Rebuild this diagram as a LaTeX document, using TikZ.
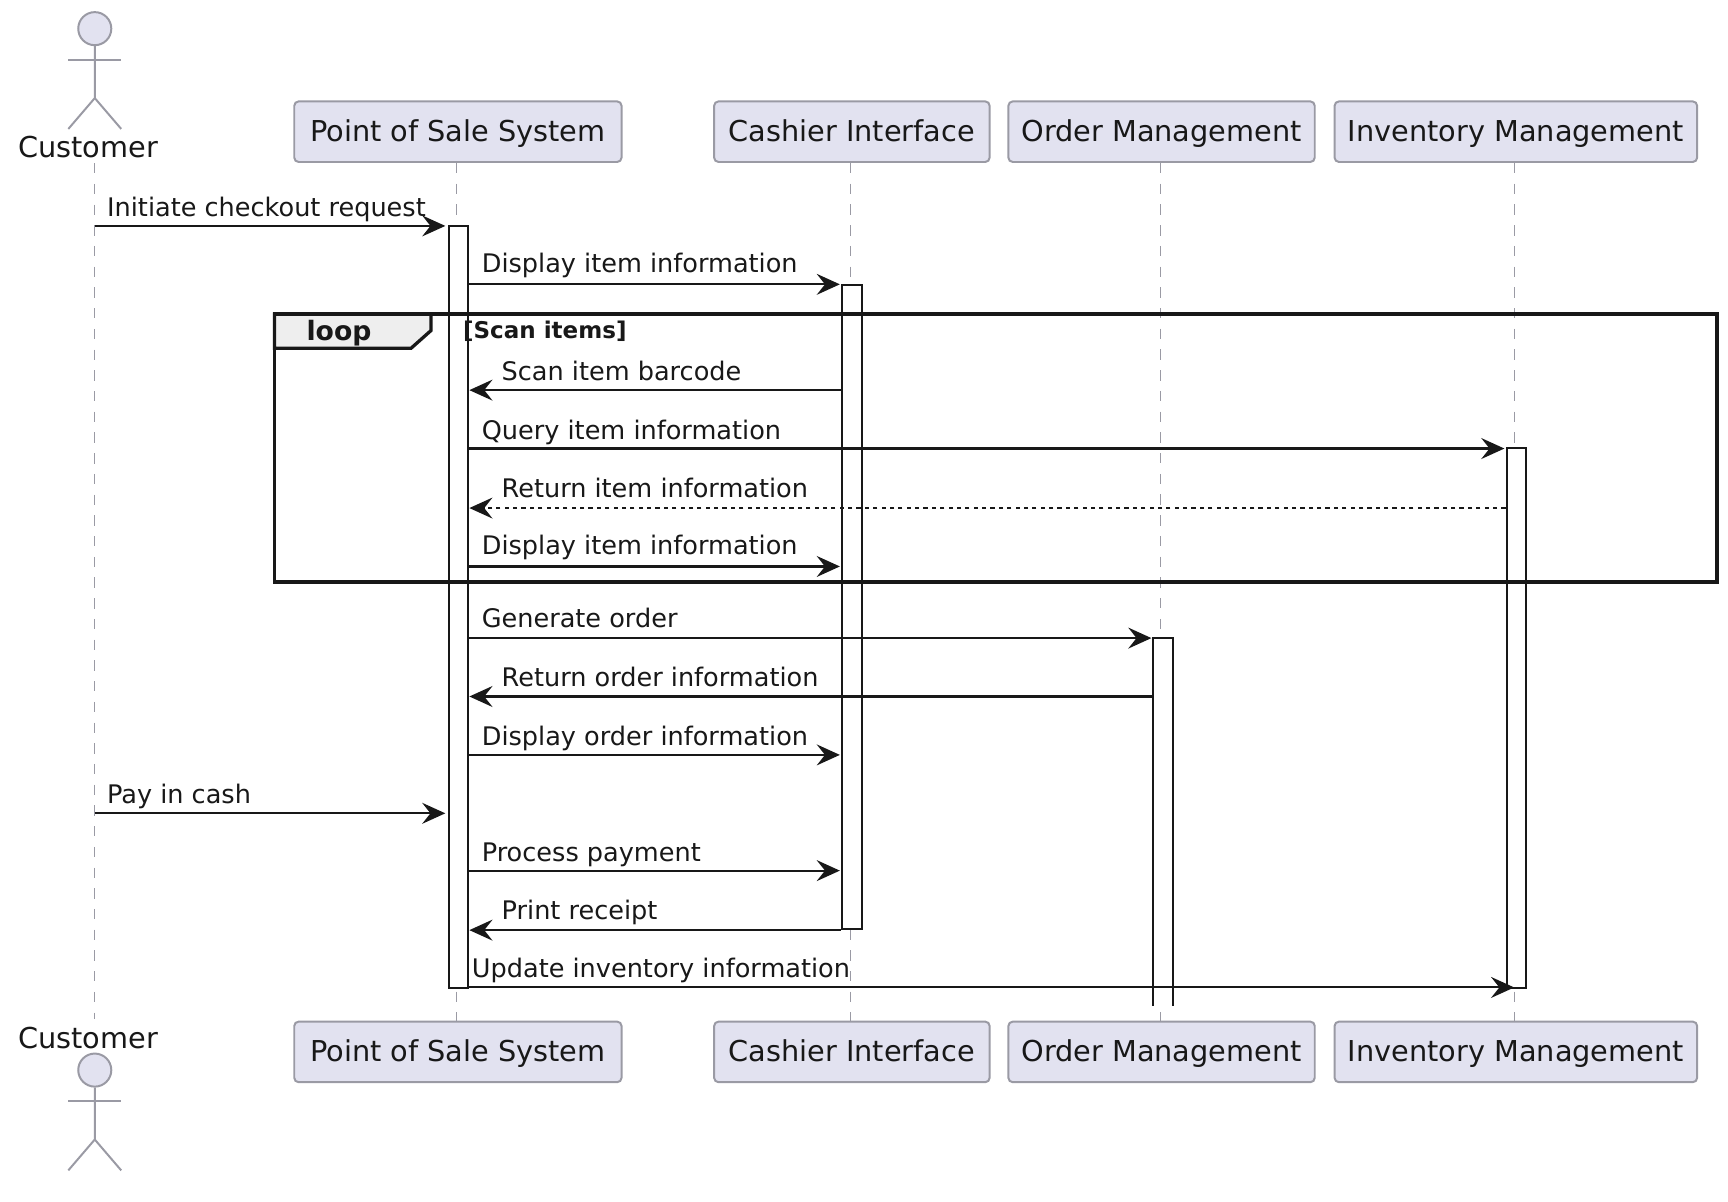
\documentclass[tikz,border=0pt]{standalone}
\usepackage{fontspec}
\setmainfont{DejaVu Sans}
\usetikzlibrary{arrows.meta}
\definecolor{boxfill}{HTML}{E2E2F0}
\definecolor{boxline}{HTML}{9A9AA4}
\definecolor{ink}{HTML}{181818}
\definecolor{tabfill}{HTML}{EEEEEE}
\tikzset{
  part/.style={draw=boxline,fill=boxfill,line width=1.8pt,rounded corners=4pt,minimum height=55pt,inner sep=0pt,text=ink,
     font=\fontsize{26.1}{30}\selectfont,text height=24pt,text depth=6.6pt},
  acttxt/.style={anchor=base,inner sep=0pt,text=ink,font=\fontsize{26.1}{30}\selectfont},
  actorhead/.style={draw=boxline,fill=boxfill,line width=1.8pt,circle,minimum size=30pt,inner sep=0pt},
  actorline/.style={draw=boxline,line width=1.8pt},
  life/.style={draw=boxline,line width=1.2pt,dash pattern=on 9.4pt off 9.4pt},
  actbox/.style={draw=ink,fill=white,line width=1.8pt,minimum width=18pt,inner sep=0pt,anchor=north},
  msg/.style={draw=ink,line width=1.9pt,-{Stealth[length=21pt,width=19pt,inset=7.5pt]}},
  ret/.style={msg,line width=1.5pt,dash pattern=on 3.8pt off 3.8pt},
  lab/.style={anchor=base west,inner sep=0pt,text=ink,font=\fontsize{23.2}{28}\selectfont},
  frameline/.style={draw=ink,line width=3pt},
}
\begin{document}
\begin{tikzpicture}[x=1pt,y=-1pt]
\useasboundingbox (0,0) rectangle (1568,1089.8);
% lifeline positions
\coordinate (lCust) at (86,0);
\coordinate (lPos) at (414.5,0);
\coordinate (lCash) at (772,0);
\coordinate (lOrd) at (1053,0);
\coordinate (lInv) at (1374,0);
\coordinate (cTop) at (86,148);
\coordinate (cBot) at (86,925);
% participants
\node[part,minimum width=297pt] (posT) at (415.5,119.5) {Point of Sale System};
\node[part,minimum width=250pt] (cashT) at (773,119.5) {Cashier Interface};
\node[part,minimum width=278pt] (ordT) at (1054,119.5) {Order Management};
\node[part,minimum width=329pt] (invT) at (1375.5,119.5) {Inventory Management};
\node[part,minimum width=297pt] (posB) at (415.5,954.5) {Point of Sale System};
\node[part,minimum width=250pt] (cashB) at (773,954.5) {Cashier Interface};
\node[part,minimum width=278pt] (ordB) at (1054,954.5) {Order Management};
\node[part,minimum width=329pt] (invB) at (1375.5,954.5) {Inventory Management};
% lifelines
\draw[life] (cTop) -- (cBot);
\draw[life] (lPos |- posT.south) -- (lPos |- posB.north);
\draw[life] (lCash |- cashT.south) -- (lCash |- cashB.north);
\draw[life] (lOrd |- ordT.south) -- (lOrd |- ordB.north);
\draw[life] (lInv |- invT.south) -- (lInv |- invB.north);
% actors
\node[actorhead] (headT) at (86,26) {};
\coordinate (hipT) at (86,89);
\draw[actorline] (headT.south) -- (hipT) -- (62,117);
\draw[actorline] (hipT) -- (110,117);
\draw[actorline] (62,54) -- (110,54);
\node[acttxt] (custT) at (80,143) {Customer};
\node[actorhead] (headB) at (86,971) {};
\coordinate (hipB) at (86,1034);
\draw[actorline] (headB.south) -- (hipB) -- (62,1062);
\draw[actorline] (hipB) -- (110,1062);
\draw[actorline] (62,999) -- (110,999);
\node[acttxt] (custB) at (80,951) {Customer};
% activations
\node[actbox,minimum height=691pt] (aPos) at (416,204.5) {};
\node[actbox,minimum height=585pt] (aCash) at (773,257.5) {};
\node[actbox,minimum height=490pt] (aInv) at (1376,406) {};
\node[inner sep=0pt,fill=white,minimum width=18pt,minimum height=333pt,anchor=north] (aOrd) at (1055,579) {};
\draw[draw=ink,line width=1.8pt] (aOrd.south west) -- (aOrd.north west) -- (aOrd.north east) -- (aOrd.south east);
% rows
\foreach \n/\y in {1/205,2/258,3/354,4/407,5/461,6/514,7/579,8/632,9/685,10/738,11/790,12/844,13/896}
  \coordinate (r\n) at (0,\y);
% loop frame
\coordinate (fA) at (249,285);
\coordinate (fB) at (1558,528);
\draw[frameline,fill=tabfill] (fA) -- (391,285) -- (391,300) -- (373,316) -- (249,316) -- cycle;
\draw[frameline] (fA) rectangle (fB);
\node[anchor=base west,inner sep=0pt,text=ink,font=\fontsize{24.2}{28}\selectfont\bfseries] (loopT) at (278,309) {loop};
\node[anchor=base west,inner sep=0pt,text=ink,font=\fontsize{20.9}{24}\selectfont\bfseries] (loopG) at (420,307) {[Scan items]};
% messages
\draw[msg] (lCust |- r1) -- ([xshift=-2pt]aPos.west |- r1);
\node[lab] (t1) at (97,196) {Initiate checkout request};
\draw[msg] (aPos.east |- r2) -- ([xshift=-1pt]aCash.west |- r2);
\node[lab] (t2) at (437,247.5) {Display item information};
\draw[msg] (aCash.west |- r3) -- (aPos.east |- r3);
\node[lab] (t3) at (455,345.5) {Scan item barcode};
\draw[msg] (aPos.east |- r4) -- ([xshift=-1pt]aInv.west |- r4);
\node[lab] (t4) at (437,398.5) {Query item information};
\draw[ret] (aInv.west |- r5) -- (aPos.east |- r5);
\node[lab] (t5) at (455,451) {Return item information};
\draw[msg] (aPos.east |- r6) -- ([xshift=-1pt]aCash.west |- r6);
\node[lab] (t6) at (437,503.5) {Display item information};
\draw[msg] (aPos.east |- r7) -- ([xshift=-1pt]aOrd.west |- r7);
\node[lab] (t7) at (437,569.5) {Generate order};
\draw[msg] (aOrd.west |- r8) -- (aPos.east |- r8);
\node[lab] (t8) at (455,622.5) {Return order information};
\draw[msg] (aPos.east |- r9) -- ([xshift=-1pt]aCash.west |- r9);
\node[lab] (t9) at (437,676.5) {Display order information};
\draw[msg] (lCust |- r10) -- ([xshift=-2pt]aPos.west |- r10);
\node[lab] (t10) at (97,729.5) {Pay in cash};
\draw[msg] (aPos.east |- r11) -- ([xshift=-1pt]aCash.west |- r11);
\node[lab] (t11) at (437,782) {Process payment};
\draw[msg] (aCash.west |- r12) -- (aPos.east |- r12);
\node[lab] (t12) at (455,834.5) {Print receipt};
\draw[msg] (aPos.east |- r13) -- (lInv |- r13);
\node[lab] (t13) at (428,887) {Update inventory information};
\end{tikzpicture}
\end{document}
